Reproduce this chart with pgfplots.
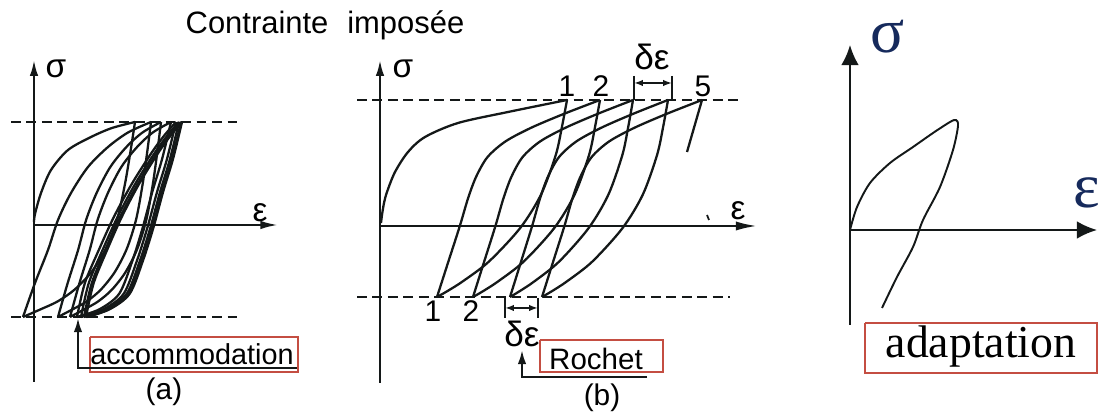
\documentclass[border=0pt]{standalone}
\usepackage{pgfplots}
\pgfplotsset{compat=1.18}
\usetikzlibrary{arrows.meta}
\usepackage{fontspec}
\setmainfont{Liberation Sans}
\newfontfamily\tnr{Liberation Serif}
\definecolor{boxred}{RGB}{196,78,66}
\definecolor{navy}{RGB}{22,42,92}
\definecolor{ink}{RGB}{20,24,24}
\newcommand{\fs}[1]{\fontsize{#1}{#1}\selectfont}

\begin{document}
\begin{tikzpicture}[every node/.style={inner sep=0pt}]
\begin{axis}[
    width=312.4pt, height=118.35pt, scale only axis,
    xmin=0, xmax=1098, ymin=0, ymax=416, y dir=reverse,
    hide axis, clip=false, no markers,
    every axis plot/.append style={ink, line width=0.65pt},
]

% ---------- title
\node[anchor=base west, font=\fs{8.8}] at (axis cs:185,33) {Contrainte\hspace{5.4pt}imposée};

% ================= (a) accommodation
\addplot[-{Latex[length=4.5pt,width=2.4pt]}] coordinates {(34,382) (34,60)};
\addplot[-{Latex[length=5pt,width=2.4pt]}] coordinates {(34,225) (278,225)};
\addplot[dash pattern=on 2.8pt off 1.6pt] coordinates {(11,122) (238,122)};
\addplot[dash pattern=on 2.8pt off 1.6pt] coordinates {(11,317) (238,317)};
\node[anchor=base west, font=\fs{9.5}] at (axis cs:45,78) {σ};
\node[anchor=base west, font=\fs{9.5}] at (axis cs:252,222) {ε};

% first loading
\addplot[smooth] coordinates {(34,222) (35,214) (41,193) (51,170) (68,150) (91,137) (112,128) (135,122)};
% unloading branches
\addplot[smooth] coordinates {(135,122) (130.5,151.3) (124.9,184.4) (117.1,219.5) (105.9,248.8) (91.3,272.2) (74.5,289.7) (57.7,301.4) (40.9,309.2) (23,317)};
\addplot[smooth] coordinates {(151,122) (147.3,151.3) (142.6,184.4) (136.1,219.5) (126.8,248.8) (114.7,272.2) (100.8,289.7) (86.8,301.4) (72.9,309.2) (58,317)};
\addplot[smooth] coordinates {(161,122) (157.4,151.3) (152.8,184.4) (146.4,219.5) (137.3,248.8) (125.5,272.2) (111.9,289.7) (98.2,301.4) (84.6,309.2) (70,317)};
\addplot[smooth] coordinates {(171,122) (162.1,159) (152.2,192.2) (142.8,227.3) (132.5,260.5) (119.3,293.6) (99.6,309.2) (77,317)};
\addplot[smooth] coordinates {(176,122) (167,159) (157,192.2) (147.5,227.3) (137,260.5) (123.8,293.6) (103.8,309.2) (81,317)};
\addplot[smooth] coordinates {(179,122) (170,159) (160,192.2) (150.5,227.3) (140,260.5) (126.8,293.6) (106.8,309.2) (84,317)};
\addplot[smooth] coordinates {(181,122) (172,159) (162,192.2) (152.5,227.3) (142,260.5) (128.8,293.6) (108.8,309.2) (86,317)};
\addplot[smooth] coordinates {(182,122) (173,159) (163,192.2) (153.5,227.3) (143,260.5) (129.8,293.6) (109.8,309.2) (87,317)};
% reloading branches
\addplot[smooth] coordinates {(23,317) (35,283) (48,250) (58,220) (71,193) (88,167) (108,147) (128,132.5) (151,122)};
\addplot[smooth] coordinates {(58,317) (67.7,283) (78.1,250) (86.1,220) (96.6,193) (110.3,167) (126.4,147) (142.5,132.5) (161,122)};
\addplot[smooth] coordinates {(70,317) (79.5,283) (89.7,250) (97.6,220) (107.9,193) (121.3,167) (137.1,147) (152.8,132.5) (171,122)};
\addplot[smooth] coordinates {(77,317) (84.9,283) (98.8,250) (113.6,217.5) (131.5,184.4) (151.3,153.2) (164.1,135.7) (176,122)};
\addplot[smooth] coordinates {(81,317) (88.8,283) (102.6,250) (117.3,217.5) (134.9,184.4) (154.5,153.2) (167.2,135.7) (179,122)};
\addplot[smooth] coordinates {(84,317) (91.8,283) (105.3,250) (119.9,217.5) (137.4,184.4) (156.8,153.2) (169.4,135.7) (181,122)};
\addplot[smooth] coordinates {(86,317) (93.7,283) (107.1,250) (121.5,217.5) (138.8,184.4) (158,153.2) (170.5,135.7) (182,122)};

% label (a)
\addplot[boxred, line width=0.5pt] coordinates {(90,337) (298,337) (298,372) (90,372) (90,337)};
\addplot[-{Latex[length=4pt,width=2.4pt]}] coordinates {(297,368) (78,368) (78,318)};
\node[anchor=base, font=\fs{8.2}] at (axis cs:192,365) {accommodation};
\node[anchor=base, font=\fs{8.5}] at (axis cs:164,400) {(a)};

% ================= (b) rochet
\addplot[-{Latex[length=4.5pt,width=2.4pt]}] coordinates {(380,383) (380,60)};
\addplot[-{Latex[length=6pt,width=2.6pt]}] coordinates {(380,226) (757,226)};
\addplot[dash pattern=on 2.8pt off 1.6pt] coordinates {(357,100) (743,100)};
\addplot[dash pattern=on 2.8pt off 1.6pt] coordinates {(357,297) (730,297)};
\node[anchor=base west, font=\fs{9.5}] at (axis cs:392,78) {σ};
\node[anchor=base west, font=\fs{9.5}] at (axis cs:730,220) {ε};
\addplot[line width=0.5pt] coordinates {(707,215) (709,220)};

% first loading
\addplot[smooth] coordinates {(381,223) (382,215) (384,203) (387,192) (395,172) (408,152) (425,137) (458,123) (508,112) (567,100)};
% unloading branches
\addplot[smooth] coordinates {(567,100) (561.8,127.6) (555.7,155.2) (541,194.6) (520.2,228) (489,261.5) (463,281.2) (447.4,291.1) (437,297)};
\addplot[smooth] coordinates {(600,100) (594.9,127.6) (589,155.2) (574.6,194.6) (554.3,228) (523.8,261.5) (498.4,281.2) (483.2,291.1) (473,297)};
\addplot[smooth] coordinates {(633,100) (628.1,127.6) (622.3,155.2) (608.4,194.6) (588.7,228) (559.2,261.5) (534.6,281.2) (519.8,291.1) (510,297)};
\addplot[smooth] coordinates {(668,100) (663,127.6) (657,155.2) (642.8,194.6) (622.6,228) (592.4,261.5) (567.2,281.2) (552.1,291.1) (542,297)};
\addplot[] coordinates {(702,100) (687,152)};
% reloading branches
\addplot[smooth] coordinates {(437,297) (448.4,261.5) (459.8,226.1) (468,198.5) (476.1,176.8) (487.5,157.1) (505.5,141.4) (531.5,127.6) (564.1,113.8) (600,100)};
\addplot[smooth] coordinates {(473,297) (484.2,261.5) (495.4,226.1) (503.4,198.5) (511.4,176.8) (522.6,157.1) (540.2,141.4) (565.8,127.6) (597.8,113.8) (633,100)};
\addplot[smooth] coordinates {(510,297) (521.1,261.5) (532.1,226.1) (540,198.5) (547.9,176.8) (559,157.1) (576.4,141.4) (601.6,127.6) (633.2,113.8) (668,100)};
\addplot[smooth] coordinates {(542,297) (553.2,261.5) (564.4,226.1) (572.4,198.5) (580.4,176.8) (591.6,157.1) (609.2,141.4) (634.8,127.6) (666.8,113.8) (702,100)};

% cycle numbers and ratchet increments
\node[anchor=base, font=\fs{8.5}] at (axis cs:567,97) {1};
\node[anchor=base, font=\fs{8.5}] at (axis cs:601,97) {2};
\node[anchor=base, font=\fs{8.5}] at (axis cs:703,97) {5};
\node[anchor=base, font=\fs{8.5}] at (axis cs:433,322) {1};
\node[anchor=base, font=\fs{8.5}] at (axis cs:471,322) {2};
\addplot[line width=0.5pt] coordinates {(634,76) (634,100)};
\addplot[line width=0.5pt] coordinates {(672,76) (672,100)};
\addplot[line width=0.5pt, {Latex[length=2.5pt,width=1.8pt]}-{Latex[length=2.5pt,width=1.8pt]}] coordinates {(634,83) (672,83)};
\node[anchor=base, font=\fs{10}] at (axis cs:652,70) {δε};
\addplot[line width=0.5pt] coordinates {(505,298) (505,318)};
\addplot[line width=0.5pt] coordinates {(538,298) (538,318)};
\addplot[line width=0.5pt, {Latex[length=2.5pt,width=1.8pt]}-{Latex[length=2.5pt,width=1.8pt]}] coordinates {(505,308) (538,308)};
\node[anchor=base, font=\fs{10}] at (axis cs:522,347) {δε};

% label (b)
\addplot[boxred, line width=0.5pt] coordinates {(540,340) (663,340) (663,372) (540,372) (540,340)};
\addplot[-{Latex[length=4pt,width=2.4pt]}] coordinates {(647,377) (522,377) (522,350)};
\node[anchor=base, font=\fs{8.4}] at (axis cs:596,370) {Rochet};
\node[anchor=base, font=\fs{8.5}] at (axis cs:602,406) {(b)};

% ================= (c) adaptation
\addplot[line width=0.6pt, -{Latex[length=5.7pt,width=5pt]}] coordinates {(850,325) (850,45)};
\addplot[line width=0.6pt, -{Latex[length=5.7pt,width=5pt]}] coordinates {(850,230) (1097,230)};
\addplot[smooth, line width=0.55pt] coordinates {(850,230) (857,207) (870,183) (890,163) (913,147) (933,133) (950,122) (956,120) (958,126) (953,150) (940,187) (923,220) (913,247) (897,277) (882,308)};
\node[anchor=base west, font=\tnr\fs{18}, text=navy] at (axis cs:870,53) {σ};
\node[anchor=base west, font=\tnr\fs{18}, text=navy] at (axis cs:1073,208) {ε};
\addplot[boxred, line width=0.5pt] coordinates {(865,323) (1097,323) (1097,373) (865,373) (865,323)};
\node[anchor=base, font=\tnr\fs{13}] at (axis cs:981,358) {adaptation};

\end{axis}
\pgfresetboundingbox
\path (current axis.south west) rectangle (current axis.north east);
\end{tikzpicture}
\end{document}
